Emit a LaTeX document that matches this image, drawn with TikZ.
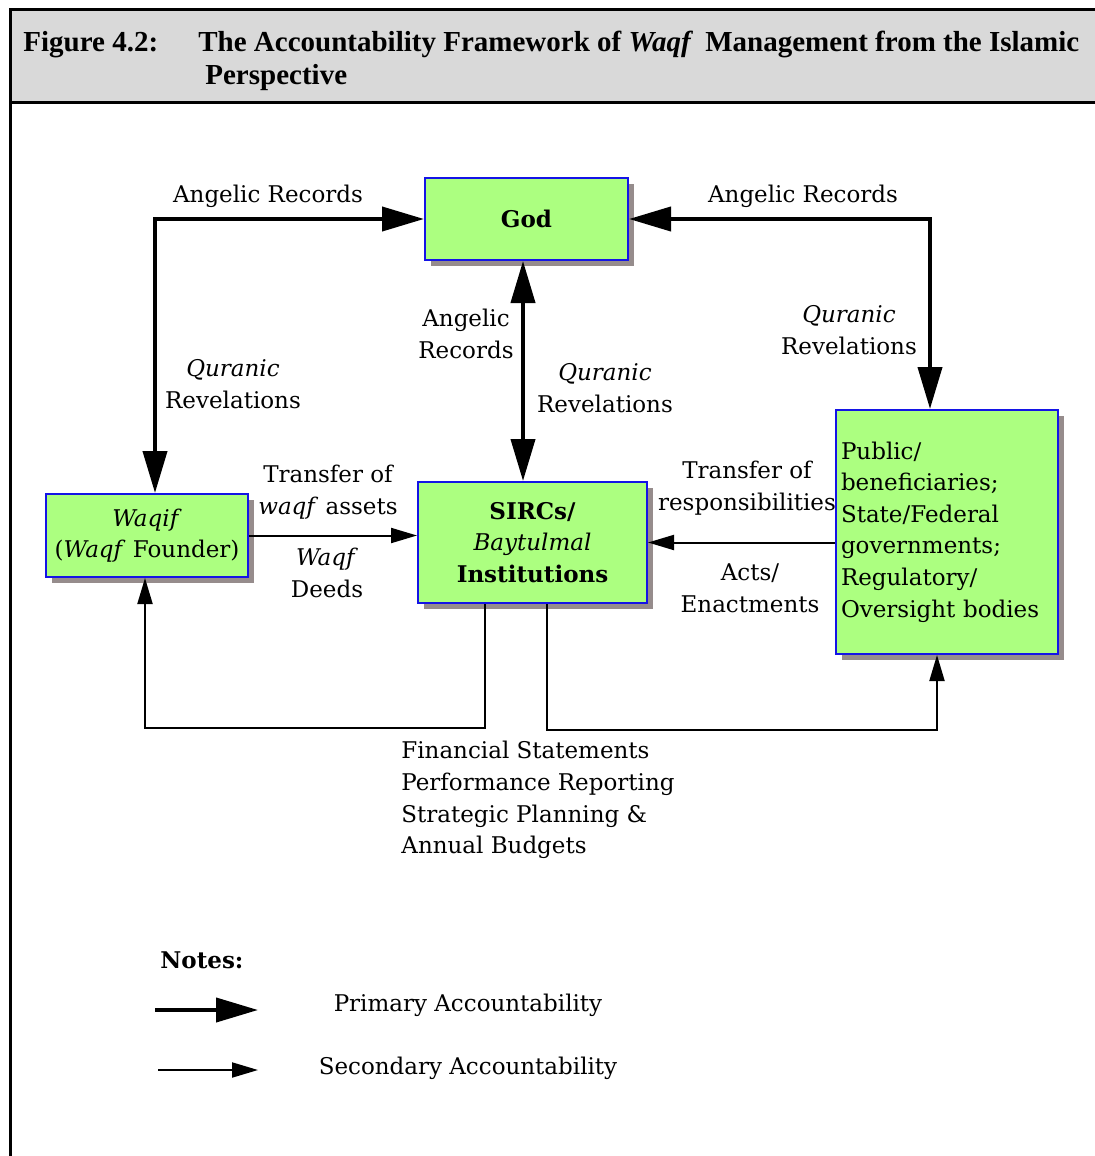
\documentclass[tikz,border=0pt]{standalone}
\usepackage{fontspec}
\setmainfont{DejaVu Serif}
\newfontfamily\titlefont{Liberation Serif}
\usetikzlibrary{arrows.meta,shadows}
\definecolor{boxgreen}{RGB}{172,255,128}
\definecolor{boxblue}{RGB}{20,20,230}
\definecolor{boxshadow}{RGB}{150,140,140}
\definecolor{titlegray}{RGB}{217,217,217}
\newcommand{\lblfont}{\fontsize{11.5}{15.8}\selectfont}

\begin{document}
\begin{tikzpicture}[x=0.5pt, y=-0.5pt,
    box/.style={rectangle, draw=boxblue, line width=1pt, fill=boxgreen,
                general shadow={fill=boxshadow, shadow xshift=3pt, shadow yshift=-3pt},
                align=center, inner sep=2pt, font=\lblfont},
    lbl/.style={align=center, inner sep=0pt, font=\lblfont},
    headline/.style={anchor=base west, inner sep=0pt,
                     font=\titlefont\bfseries\fontsize{14.5}{17}\selectfont},
    primary/.style={line width=2pt, >={Triangle[length=21pt, width=12pt]}},
    secondary/.style={line width=1pt, >={Triangle[length=13pt, width=7.5pt]}}
]
\useasboundingbox (0,0) rectangle (1095,1156);
\fill[titlegray] (10,10) rectangle (1095,103);
\draw[line width=1.5pt] (1095,10) -- (10,10) -- (10,1156);
\draw[line width=1.5pt] (10,103) -- (1095,103);

\node[headline] (figno) at (23,52) {Figure 4.2:};
\node[headline] (figtitle) at (198,52) {The Accountability Framework of \textit{Waqf}\, Management from the Islamic};
\node[headline] (figtitle2) at (205,85) {Perspective};

\node[box, minimum width=101.5pt, minimum height=41pt] (god) at (526.5,219) {\textbf{God}};
\node[box, minimum width=101pt, minimum height=41.5pt] (waqif) at (147,535.5) {\textit{Waqif}\\(\textit{Waqf} Founder)};
\node[box, minimum width=114.5pt, minimum height=60.5pt] (sircs) at (532.5,542.5) {\textbf{SIRCs/}\\\textit{Baytulmal}\\\textbf{Institutions}};
\node[box, minimum width=111pt, minimum height=122pt, text width=106pt, align=left] (public) at (947,532)
    {Public/\\beneficiaries;\\State/Federal\\governments;\\Regulatory/\\Oversight bodies};

\node[lbl] (angleft) at (268,196) {Angelic Records};
\node[lbl] (quranleft) at (233,384) {\textit{Quranic}\\Revelations};
\node[lbl] (angright) at (803,196) {Angelic Records};
\node[lbl] (quranright) at (849,330) {\textit{Quranic}\\Revelations};
\node[lbl] (angmid) at (466,334) {Angelic\\Records};
\node[lbl] (quranmid) at (605,388) {\textit{Quranic}\\Revelations};
\node[lbl] (transfer) at (328,492) {Transfer of\\\textit{waqf} assets};
\node[lbl] (deeds) at (327,573) {\textit{Waqf}\\Deeds};
\node[lbl] (respons) at (747,488) {Transfer of\\responsibilities};
\node[lbl] (acts) at (750,588) {Acts/\\Enactments};
\node[lbl, align=left, anchor=north west] (reports) at (401,741)
    {Financial Statements\\Performance Reporting\\Strategic Planning \&\\Annual Budgets};

\node[lbl, anchor=west] (notes) at (160,960) {\textbf{Notes:}};
\node[lbl] (primtext) at (468,1005) {Primary Accountability};
\node[lbl] (sectext) at (468,1068) {Secondary Accountability};
\coordinate (primstart) at (155,1010);
\coordinate (primend) at (258,1010);
\coordinate (secstart) at (158,1070);
\coordinate (secend) at (258,1070);

\draw[primary, <->] (god.west) -| ([xshift=4pt]waqif.north);
\draw[primary, <->] (god.east) -| ([xshift=-8.5pt]public.north);
\draw[primary, <->] ([xshift=-1.75pt]god.south) -- ([xshift=-1.75pt]god.south |- sircs.north);
\draw[secondary, ->] (waqif.east) -- (waqif.east -| sircs.west);
\draw[secondary, ->] (public.west |- sircs.east) -- (sircs.east);
\draw[secondary, ->] ([xshift=-23.75pt]sircs.south) -- ++(0,124) -| ([xshift=-1pt]waqif.south);
\draw[secondary, ->] ([xshift=7.25pt]sircs.south) -- ++(0,126) -| ([xshift=-5pt]public.south);
\draw[primary, ->] (primstart) -- (primend);
\draw[secondary, ->] (secstart) -- (secend);
\end{tikzpicture}
\end{document}
